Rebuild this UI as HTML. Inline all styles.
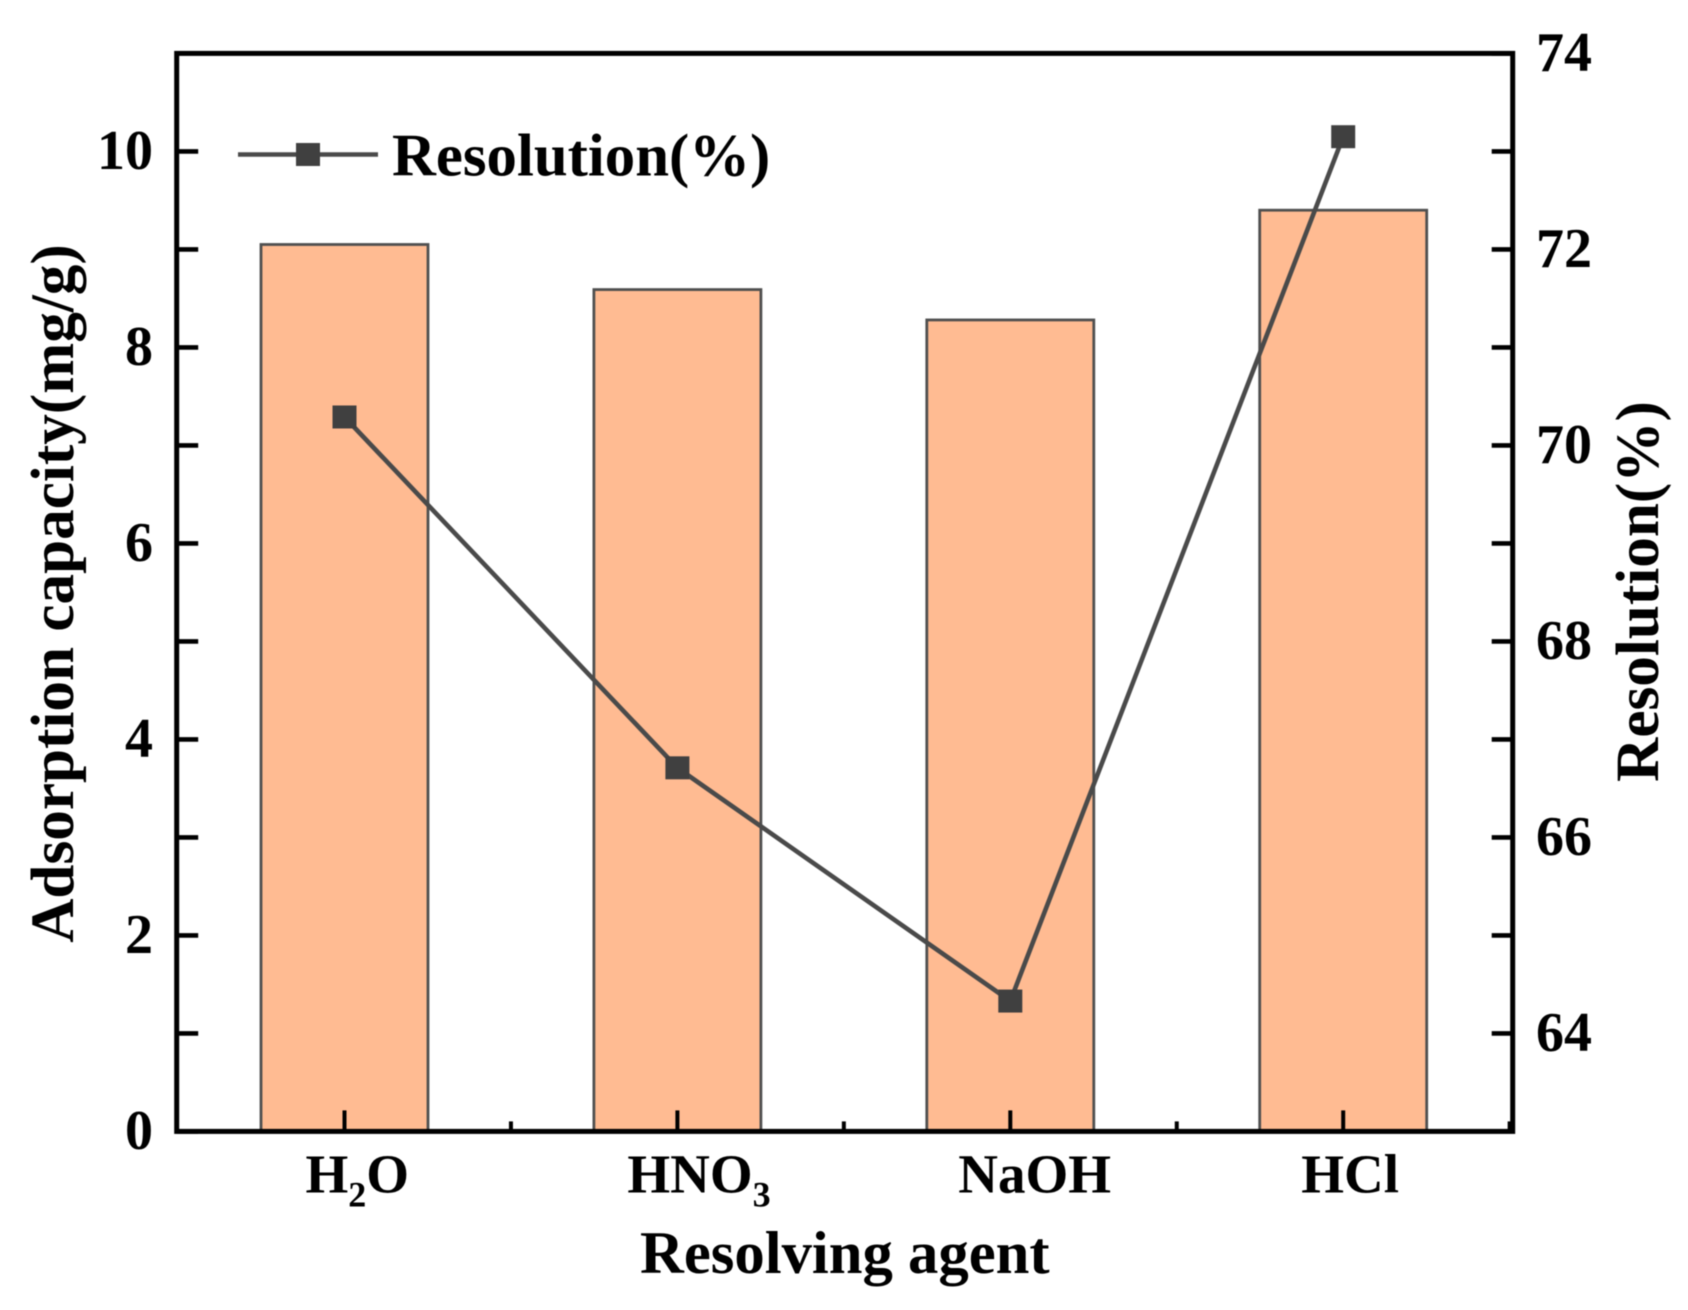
<!DOCTYPE html>
<html lang="en">
<head>
<meta charset="utf-8">
<title>Adsorption capacity and resolution by resolving agent</title>
<style>
  html, body { margin: 0; padding: 0; background: #fff; }
  #chart { display: block; width: 1688px; height: 1310px; filter: blur(0.6px); }
  text { font-family: "Liberation Serif", serif; font-weight: bold; fill: #000; }
</style>
</head>
<body>
<svg id="chart" xmlns="http://www.w3.org/2000/svg" width="1688" height="1310" viewBox="0 0 1688 1310">
  <rect x="0" y="0" width="1688" height="1310" fill="#fff"/>
  <g id="bars"></g>
  <g id="ticks"></g>
  <rect x="176.7" y="53.4" width="1336" height="1078" fill="none" stroke="#000" stroke-width="5"/>
  <g id="tick-labels"></g>
  <g id="series"></g>

  <g>
    <line x1="238" y1="154.5" x2="378" y2="154.5" stroke="#4a4a4a" stroke-width="4.6"/>
    <rect x="296" y="143" width="24" height="23" fill="#404040"/>
    <text x="392" y="175.5" font-size="60.8">Resolution(%)</text>
  </g>

  <text x="640" y="1273" font-size="60.7">Resolving agent</text>
  <text transform="translate(73,593.5) rotate(-90)" text-anchor="middle" font-size="61.2">Adsorption capacity(mg/g)</text>
  <text transform="translate(1658,591.5) rotate(-90)" text-anchor="middle" font-size="61.2">Resolution(%)</text>
</svg>

<script>
const categories = ["H2O", "HNO3", "NaOH", "HCl"];
const adsorptionValues = [9.05, 8.59, 8.28, 9.40];
const resolutionValues = [70.29, 66.71, 64.33, 73.15];
const leftMajorTicks = [0, 2, 4, 6, 8, 10];
const leftMinorTicks = [1, 3, 5, 7, 9];
const rightMajorTicks = [64, 66, 68, 70, 72, 74];
const rightMinorTicks = [65, 67, 69, 71, 73];

const SVG_NS = "http://www.w3.org/2000/svg";
const plotBottom = 1131.4;
const plotTop = 53.4;
const frameLeft = 176.7;
const frameRight = 1512.7;

function xScale(index) { return 344.5 + index * 332.9; }
function yLeft(value) { return plotBottom - (value / 11) * (plotBottom - plotTop); }
function yRight(value) { return plotBottom - ((value - 63) / 11) * (plotBottom - plotTop); }

const barsGroup = document.getElementById("bars");
const ticksGroup = document.getElementById("ticks");
const labelsGroup = document.getElementById("tick-labels");
const seriesGroup = document.getElementById("series");

/* Bars */
adsorptionValues.forEach(function (value, i) {
  const bar = document.createElementNS(SVG_NS, "rect");
  bar.setAttribute("x", xScale(i) - 83.5);
  bar.setAttribute("y", yLeft(value));
  bar.setAttribute("width", 167);
  bar.setAttribute("height", plotBottom - yLeft(value));
  bar.setAttribute("fill", "#FFBB92");
  bar.setAttribute("stroke", "#505050");
  bar.setAttribute("stroke-width", 2.8);
  
  
  barsGroup.appendChild(bar);
});

/* Left axis ticks */
leftMajorTicks.concat(leftMinorTicks).forEach(function (value) {
  const tick = document.createElementNS(SVG_NS, "line");
  tick.setAttribute("x1", frameLeft);
  tick.setAttribute("x2", frameLeft + 21.5);
  tick.setAttribute("y1", yLeft(value));
  tick.setAttribute("y2", yLeft(value));
  tick.setAttribute("stroke", "#000");
  tick.setAttribute("stroke-width", 4.6);
  
  
  ticksGroup.appendChild(tick);
});

/* Right axis ticks */
rightMajorTicks.concat(rightMinorTicks).forEach(function (value) {
  const tick = document.createElementNS(SVG_NS, "line");
  tick.setAttribute("x1", frameRight);
  tick.setAttribute("x2", frameRight - 21);
  tick.setAttribute("y1", yRight(value));
  tick.setAttribute("y2", yRight(value));
  tick.setAttribute("stroke", "#000");
  tick.setAttribute("stroke-width", 4.6);
  
  
  ticksGroup.appendChild(tick);
});

/* X axis ticks: major at categories, minor between them */
categories.forEach(function (name, i) {
  const major = document.createElementNS(SVG_NS, "line");
  major.setAttribute("x1", xScale(i));
  major.setAttribute("x2", xScale(i));
  major.setAttribute("y1", plotBottom);
  major.setAttribute("y2", plotBottom - 21);
  major.setAttribute("stroke", "#000");
  major.setAttribute("stroke-width", 4);
  
  
  ticksGroup.appendChild(major);

  const minor = document.createElementNS(SVG_NS, "line");
  minor.setAttribute("x1", xScale(i + 0.5));
  minor.setAttribute("x2", xScale(i + 0.5));
  minor.setAttribute("y1", plotBottom);
  minor.setAttribute("y2", plotBottom - 10);
  minor.setAttribute("stroke", "#000");
  minor.setAttribute("stroke-width", 4);
  
  
  ticksGroup.appendChild(minor);
});

/* Left tick labels */
leftMajorTicks.forEach(function (value) {
  const label = document.createElementNS(SVG_NS, "text");
  label.setAttribute("x", 153);
  label.setAttribute("y", yLeft(value) + 17.5);
  label.setAttribute("text-anchor", "end");
  label.setAttribute("font-size", 56);
  
  
  label.textContent = value;
  labelsGroup.appendChild(label);
});

/* Right tick labels */
rightMajorTicks.forEach(function (value) {
  const label = document.createElementNS(SVG_NS, "text");
  label.setAttribute("x", 1536);
  label.setAttribute("y", yRight(value) + 17.5);
  label.setAttribute("font-size", 56);
  
  
  label.textContent = value;
  labelsGroup.appendChild(label);
});

/* X tick labels: digits are rendered as subscripts */
const xLabelNudge = { "H2O": -39, "HNO3": -50, "NaOH": -52, "HCl": -42 };
categories.forEach(function (name, i) {
  const label = document.createElementNS(SVG_NS, "text");
  label.setAttribute("x", xScale(i) + (xLabelNudge[name] || -45));
  label.setAttribute("y", 1192.7);
  label.setAttribute("font-size", 55);
  
  
  name.split(/(\d)/).forEach(function (part) {
    if (!part) return;
    const span = document.createElementNS(SVG_NS, "tspan");
    
    
    span.textContent = part;
    if (/\d/.test(part)) {
      span.setAttribute("font-size", 36);
      span.setAttribute("dy", 14);
    } else if (label.childNodes.length && /\d/.test(label.lastChild.textContent)) {
      span.setAttribute("dy", -14);
    }
    label.appendChild(span);
  });
  labelsGroup.appendChild(label);
});

/* Resolution line */
const resolutionLine = document.createElementNS(SVG_NS, "polyline");
resolutionLine.setAttribute("points", resolutionValues.map(function (value, i) {
  return xScale(i) + "," + yRight(value);
}).join(" "));
resolutionLine.setAttribute("fill", "none");
resolutionLine.setAttribute("stroke", "#4a4a4a");
resolutionLine.setAttribute("stroke-width", 4.6);


seriesGroup.appendChild(resolutionLine);

/* Resolution markers */
resolutionValues.forEach(function (value, i) {
  const marker = document.createElementNS(SVG_NS, "rect");
  marker.setAttribute("x", xScale(i) - 12);
  marker.setAttribute("y", yRight(value) - 11.5);
  marker.setAttribute("width", 24);
  marker.setAttribute("height", 23);
  marker.setAttribute("fill", "#404040");
  
  
  seriesGroup.appendChild(marker);
});
</script>
</body>
</html>
